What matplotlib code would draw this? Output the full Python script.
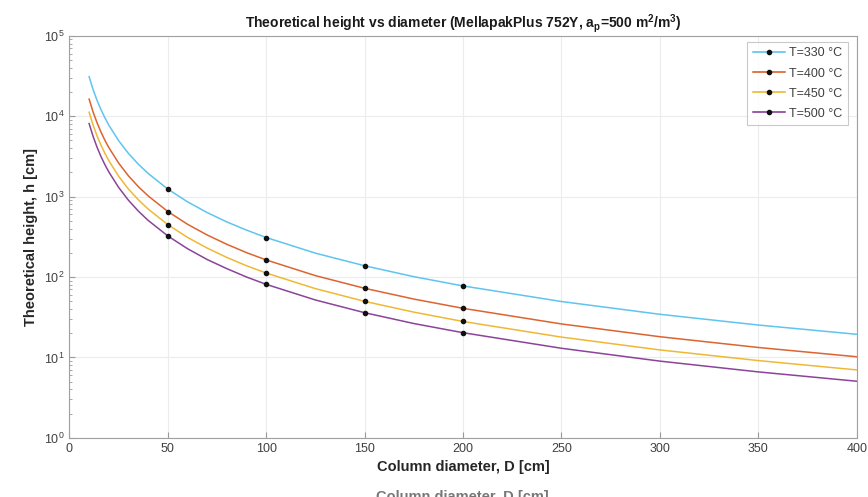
import numpy as np
import matplotlib
matplotlib.use('Agg')
import matplotlib.pyplot as plt
from matplotlib.lines import Line2D

plt.rcParams['font.family'] = ['Liberation Sans', 'DejaVu Sans']
plt.rcParams['mathtext.default'] = 'regular'

diam = [10, 12, 14, 16, 18, 20, 25, 30, 35, 40, 50, 60, 70, 80, 90, 100,
        125, 150, 175, 200, 250, 300, 350, 400]

# theoretical height h [cm] for each temperature
h_330 = [31000, 21500, 15800, 12100, 9570, 7750, 4960, 3440, 2530, 1940, 1240,
         861, 633, 484, 383, 310, 198, 138, 101, 77.5, 49.6, 34.4, 25.3, 19.4]
h_400 = [16300, 11300, 8320, 6370, 5030, 4080, 2610, 1810, 1330, 1020, 652,
         453, 333, 255, 201, 163, 104, 72.4, 53.2, 40.8, 26.1, 18.1, 13.3, 10.2]
h_450 = [11200, 7780, 5710, 4380, 3460, 2800, 1790, 1240, 914, 700, 448,
         311, 229, 175, 138, 112, 71.7, 49.8, 36.6, 28.0, 17.9, 12.4, 9.14, 7.0]
h_500 = [8100, 5630, 4130, 3160, 2500, 2030, 1300, 900, 661, 506, 324,
         225, 165, 127, 100, 81, 51.8, 36.0, 26.4, 20.3, 13.0, 9.0, 6.61, 5.06]

labels = ['T=330 °C', 'T=400 °C', 'T=450 °C', 'T=500 °C']
colors = ['#4DBEEE', '#D95319', '#EDB120', '#7E2F8E']

# diameters that got a black marker
mark_diam = [50, 100, 150, 200]

fig = plt.figure(figsize=(8.68, 4.97), dpi=100)
ax = fig.add_axes([0.080, 0.119, 0.907, 0.809])

handles = []
for h, c, lab in zip([h_330, h_400, h_450, h_500], colors, labels):
    ax.plot(diam, h, '-', color=c, lw=1.1, alpha=0.9)
    hm = [h[diam.index(d)] for d in mark_diam]
    ax.plot(mark_diam, hm, '.', color='#111111', ms=6)
    handles.append(Line2D([], [], color=c, lw=1.1, marker='.', ms=6,
                          markerfacecolor='#111111', markeredgecolor='#111111'))

ax.set_yscale('log')
ax.set_xlim(0, 400)
ax.set_ylim(1, 1e5)
ax.set_xticks(np.arange(0, 401, 50))
ax.set_yticks([1, 10, 100, 1e3, 1e4, 1e5])

ax.grid(True, which='major', color='#ececec', lw=0.8)
ax.tick_params(which='both', direction='in', colors='#9a9a9a', labelcolor='#404040',
               labelsize=9, top=False, right=False)
ax.tick_params(which='major', length=4)
ax.tick_params(which='minor', length=2)
for s in ax.spines.values():
    s.set_color('#a0a0a0')
    s.set_linewidth(0.8)

ax.set_title('Theoretical height vs diameter (MellapakPlus 752Y, a$_p$=500 m$^2$/m$^3$)',
             fontsize=10, fontweight='bold', color='#1a1a1a', pad=6)
ax.set_xlabel('Column diameter, D [cm]', fontsize=10.5, fontweight='bold', color='#262626', labelpad=4)
ax.set_ylabel('Theoretical height, h [cm]', fontsize=10.5, fontweight='bold', color='#262626', labelpad=4)

leg = ax.legend(handles, labels, loc='upper right', fontsize=9, frameon=True, fancybox=False,
                bbox_to_anchor=(0.989, 0.985), borderaxespad=0.0, borderpad=0.45,
                handlelength=2.6, handletextpad=0.3, labelspacing=0.65)
leg.get_frame().set_edgecolor('#bcbcbc')
leg.get_frame().set_linewidth(0.8)
for t in leg.get_texts():
    t.set_color('#404040')

# faint cut-off copy of the x label at the bottom edge
fig.text(0.533, 0.0, 'Column diameter, D [cm]', ha='center', va='center', fontsize=10.5,
         fontweight='bold', color='#555555', alpha=0.8)

fig.savefig('out.png', dpi=100)
